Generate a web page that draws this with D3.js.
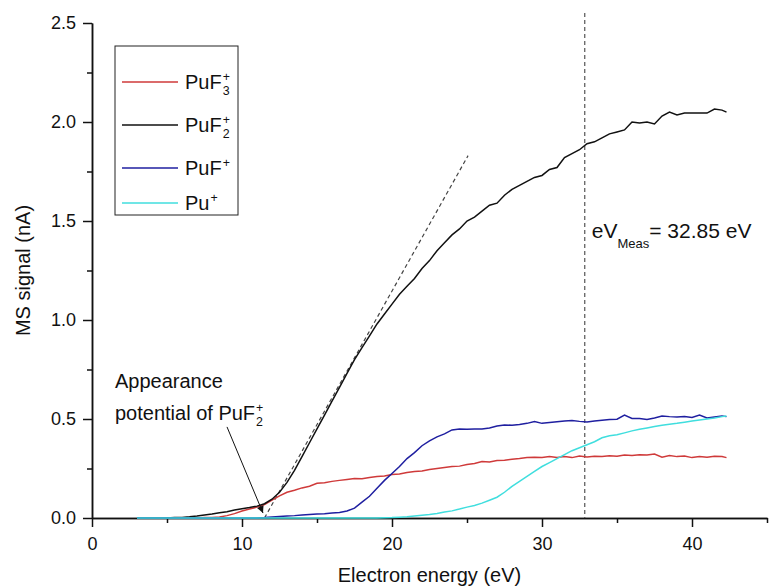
<!DOCTYPE html>
<html>
<head>
<meta charset="utf-8">
<script src="https://cdn.jsdelivr.net/npm/d3@7"></script>
<style>
  body { margin: 0; background: #fff; }
  text { font-family: "Liberation Sans", Arial, sans-serif; fill: #111; }
</style>
</head>
<body>
<div id="my_dataviz"></div>
<script>

// electron energy (eV), shared by all four series
var energy = [
  3.0, 3.5, 4.0, 4.5, 5.0, 5.5, 6.0, 6.5, 7.0, 7.5,
  8.0, 8.5, 9.0, 9.5, 10.0, 10.5, 11.0, 11.5, 12.0, 12.5,
  13.0, 13.5, 14.0, 14.5, 15.0, 15.5, 16.0, 16.5, 17.0, 17.5,
  18.0, 18.5, 19.0, 19.5, 20.0, 20.5, 21.0, 21.5, 22.0, 22.5,
  23.0, 23.5, 24.0, 24.5, 25.0, 25.5, 26.0, 26.5, 27.0, 27.5,
  28.0, 28.5, 29.0, 29.5, 30.0, 30.5, 31.0, 31.5, 32.0, 32.5,
  33.0, 33.5, 34.0, 34.5, 35.0, 35.5, 36.0, 36.5, 37.0, 37.5,
  38.0, 38.5, 39.0, 39.5, 40.0, 40.5, 41.0, 41.5, 42.0, 42.3
]

// MS signal (nA)
var puf3 = [
  0, 0, 0, 0, 0, 0, 0, 0, 0, 0.002,
  0.003, 0.005, 0.012, 0.022, 0.035, 0.045, 0.055, 0.068, 0.09, 0.112,
  0.13, 0.14, 0.152, 0.16, 0.175, 0.178, 0.185, 0.19, 0.195, 0.20,
  0.198, 0.205, 0.21, 0.212, 0.22, 0.222, 0.23, 0.235, 0.237, 0.245,
  0.25, 0.255, 0.26, 0.262, 0.27, 0.275, 0.285, 0.283, 0.29, 0.292,
  0.297, 0.30, 0.305, 0.307, 0.305, 0.31, 0.306, 0.31, 0.305, 0.313,
  0.308, 0.312, 0.31, 0.314, 0.312, 0.318, 0.316, 0.32, 0.318, 0.323,
  0.307, 0.315, 0.31, 0.313, 0.305, 0.31, 0.307, 0.312, 0.31, 0.305
]
var puf2 = [
  0, 0, 0, 0, 0, 0.002, 0.003, 0.006, 0.01, 0.015,
  0.02, 0.026, 0.032, 0.04, 0.047, 0.053, 0.06, 0.072, 0.095, 0.13,
  0.18, 0.24, 0.31, 0.38, 0.45, 0.52, 0.59, 0.66, 0.73, 0.80,
  0.86, 0.92, 0.98, 1.03, 1.08, 1.13, 1.17, 1.21, 1.26, 1.30,
  1.35, 1.39, 1.43, 1.46, 1.50, 1.52, 1.55, 1.58, 1.59, 1.63,
  1.66, 1.68, 1.70, 1.72, 1.73, 1.76, 1.77, 1.82, 1.84, 1.86,
  1.89, 1.90, 1.92, 1.94, 1.95, 1.96, 2.00, 1.995, 2.00, 1.99,
  2.03, 2.05, 2.035, 2.045, 2.045, 2.045, 2.045, 2.065, 2.06, 2.05
]
var puf = [
  0, 0, 0, 0, 0, 0, 0, 0, 0, 0,
  0, 0, 0, 0, 0, 0, 0, 0.002, 0.005, 0.008,
  0.01, 0.012, 0.015, 0.018, 0.02, 0.022, 0.025, 0.028, 0.035, 0.05,
  0.08, 0.11, 0.15, 0.19, 0.225, 0.26, 0.30, 0.33, 0.365, 0.39,
  0.41, 0.425, 0.445, 0.45, 0.448, 0.45, 0.449, 0.455, 0.465, 0.47,
  0.468, 0.472, 0.478, 0.487, 0.478, 0.482, 0.486, 0.49, 0.492, 0.488,
  0.485, 0.49, 0.494, 0.498, 0.499, 0.52, 0.503, 0.502, 0.498, 0.505,
  0.515, 0.512, 0.51, 0.512, 0.508, 0.52, 0.505, 0.51, 0.515, 0.512
]
var pu = [
  0, 0, 0, 0, 0, 0, 0, 0, 0, 0,
  0, 0, 0, 0, 0, 0, 0, 0, 0, 0,
  0, 0, 0, 0, 0, 0, 0, 0, 0, 0,
  0, 0, 0, 0.001, 0.002, 0.004, 0.006, 0.01, 0.014, 0.018,
  0.023, 0.03, 0.036, 0.045, 0.055, 0.063, 0.075, 0.09, 0.105, 0.13,
  0.16, 0.185, 0.21, 0.235, 0.26, 0.28, 0.30, 0.32, 0.34, 0.355,
  0.37, 0.385, 0.405, 0.415, 0.42, 0.43, 0.44, 0.448, 0.455, 0.462,
  0.468, 0.473, 0.478, 0.484, 0.49, 0.495, 0.50, 0.505, 0.512, 0.515
]

// legend names: base, subscript, superscript
var seriesNames = [["PuF", "3", "+"], ["PuF", "2", "+"], ["PuF", "", "+"], ["Pu", "", "+"]]
var seriesColors = ["#cf3a3a", "#111111", "#1f1fa0", "#40dede"]

var xTicks = [0, 10, 20, 30, 40]
var xMinor = [5, 15, 25, 35, 45]
var yTicks = [0, 0.5, 1.0, 1.5, 2.0, 2.5]
var yMinor = [0.25, 0.75, 1.25, 1.75, 2.25]

// annotations
var eVMeas = 32.85
var tangent = [[11.5, 0], [25.07, 1.83]]
var arrowPts = [[9.0, 0.46], [11.4, 0.025]]


var margin = {top: 23, right: 9, bottom: 70, left: 92},
    width = 776 - margin.left - margin.right,
    height = 588 - margin.top - margin.bottom

var svg = d3.select("#my_dataviz")
  .append("svg")
    .attr("width", 776)
    .attr("height", 588)
  .append("g")
    .attr("transform", "translate(" + margin.left + "," + margin.top + ")")

var x = d3.scaleLinear().domain([0, 45]).range([0, width])
var y = d3.scaleLinear().domain([0, 2.5]).range([height, 0])

// ----------------- //
// Axes
// ----------------- //

svg.append("g")
  .attr("transform", "translate(0," + height + ")")
  .call(d3.axisBottom(x).tickValues(xTicks).tickSize(9).tickSizeOuter(0).tickPadding(10).tickFormat(d3.format("d")))
svg.append("g")
  .attr("transform", "translate(0," + height + ")")
  .call(d3.axisBottom(x).tickValues(xMinor).tickSize(5).tickSizeOuter(0).tickFormat(""))

svg.append("g")
  .call(d3.axisLeft(y).tickValues(yTicks).tickSize(9).tickSizeOuter(0).tickPadding(7).tickFormat(d3.format(".1f")))
svg.append("g")
  .call(d3.axisLeft(y).tickValues(yMinor).tickSize(5).tickSizeOuter(0).tickFormat(""))

svg.selectAll(".domain, .tick line").attr("stroke", "#111").attr("stroke-width", 1.5)
svg.selectAll(".tick text").style("font-size", "18px").attr("fill", "#111")

// axis titles
svg.append("text")
  .attr("x", width / 2)
  .attr("y", height + 64)
  .attr("text-anchor", "middle")
  .style("font-size", "20px")
  .text("Electron energy (eV)")

svg.append("text")
  .attr("transform", "translate(" + (-62) + "," + (height / 2) + ") rotate(-90)")
  .attr("text-anchor", "middle")
  .style("font-size", "20px")
  .text("MS signal (nA)")

// ----------------- //
// Reference lines
// ----------------- //

svg.append("line")
  .attr("x1", x(eVMeas)).attr("x2", x(eVMeas))
  .attr("y1", y(2.55)).attr("y2", y(0))
  .attr("stroke", "#555").attr("stroke-width", 1.2)
  .attr("stroke-dasharray", "4,3")

svg.append("line")
  .attr("x1", x(tangent[0][0])).attr("y1", y(tangent[0][1]))
  .attr("x2", x(tangent[1][0])).attr("y2", y(tangent[1][1]))
  .attr("stroke", "#444").attr("stroke-width", 1.2)
  .attr("stroke-dasharray", "4,3")

// ----------------- //
// Curves
// ----------------- //

var allSeries = [puf3, puf2, puf, pu]
var line = d3.line()
  .x(function(d, i) { return x(energy[i]) })
  .y(function(d) { return y(d) })

svg.selectAll(".curve")
  .data(allSeries)
  .enter()
  .append("path")
    .attr("class", "curve")
    .attr("d", function(d) { return line(d) })
    .attr("fill", "none")
    .attr("stroke", function(d, i) { return seriesColors[i] })
    .attr("stroke-width", 1.5)

// ----------------- //
// Text helper: base text with stacked sub/superscript
// ----------------- //

function chemLabel(g, px, py, base, sub, sup, size) {
  var t = g.append("text").attr("x", px).attr("y", py).style("font-size", size + "px").text(base)
  var w = t.node().getComputedTextLength()
  if (sup) g.append("text").attr("x", px + w + 1).attr("y", py - size * 0.42).style("font-size", (size * 0.62) + "px").text(sup)
  if (sub) g.append("text").attr("x", px + w + 1).attr("y", py + size * 0.3).style("font-size", (size * 0.62) + "px").text(sub)
}

// ----------------- //
// Legend
// ----------------- //

var legendYs = [59, 102, 145, 180]
var legend = svg.append("g").attr("transform", "translate(" + (115 - margin.left) + ",0)")

legend.append("rect")
  .attr("x", 0).attr("y", 23)
  .attr("width", 123).attr("height", 169)
  .attr("fill", "#fff")
  .attr("stroke", "#222").attr("stroke-width", 1)

seriesNames.forEach(function(n, i) {
  legend.append("line")
    .attr("x1", 7).attr("x2", 63)
    .attr("y1", legendYs[i]).attr("y2", legendYs[i])
    .attr("stroke", seriesColors[i]).attr("stroke-width", 1.5)
  chemLabel(legend, 70, legendYs[i] + 7, n[0], n[1], n[2], 20)
})

// ----------------- //
// Annotations
// ----------------- //

var defs = svg.append("defs")
defs.append("marker")
  .attr("id", "arrowhead")
  .attr("viewBox", "0 0 10 10")
  .attr("refX", 10).attr("refY", 5)
  .attr("markerWidth", 14).attr("markerHeight", 7)
  .attr("markerUnits", "userSpaceOnUse")
  .attr("orient", "auto")
  .append("path")
    .attr("d", "M0,0 L10,5 L0,10 z")
    .attr("fill", "#111")

svg.append("line")
  .attr("x1", x(arrowPts[0][0])).attr("y1", y(arrowPts[0][1]))
  .attr("x2", x(arrowPts[1][0])).attr("y2", y(arrowPts[1][1]))
  .attr("stroke", "#111").attr("stroke-width", 1)
  .attr("marker-end", "url(#arrowhead)")

svg.append("text")
  .attr("x", 115 - margin.left).attr("y", 388 - margin.top)
  .style("font-size", "20px")
  .text("Appearance")
chemLabel(svg, 115 - margin.left, 420 - margin.top, "potential of PuF", "2", "+", 20)

// eV_Meas label
var meas = svg.append("text")
  .attr("x", x(eVMeas) + 7).attr("y", 238 - margin.top)
  .style("font-size", "21px")
meas.append("tspan").text("eV")
meas.append("tspan").attr("dy", 10).style("font-size", "13px").text("Meas")
meas.append("tspan").attr("dy", -10).text("= 32.85 eV")

</script>
</body>
</html>
